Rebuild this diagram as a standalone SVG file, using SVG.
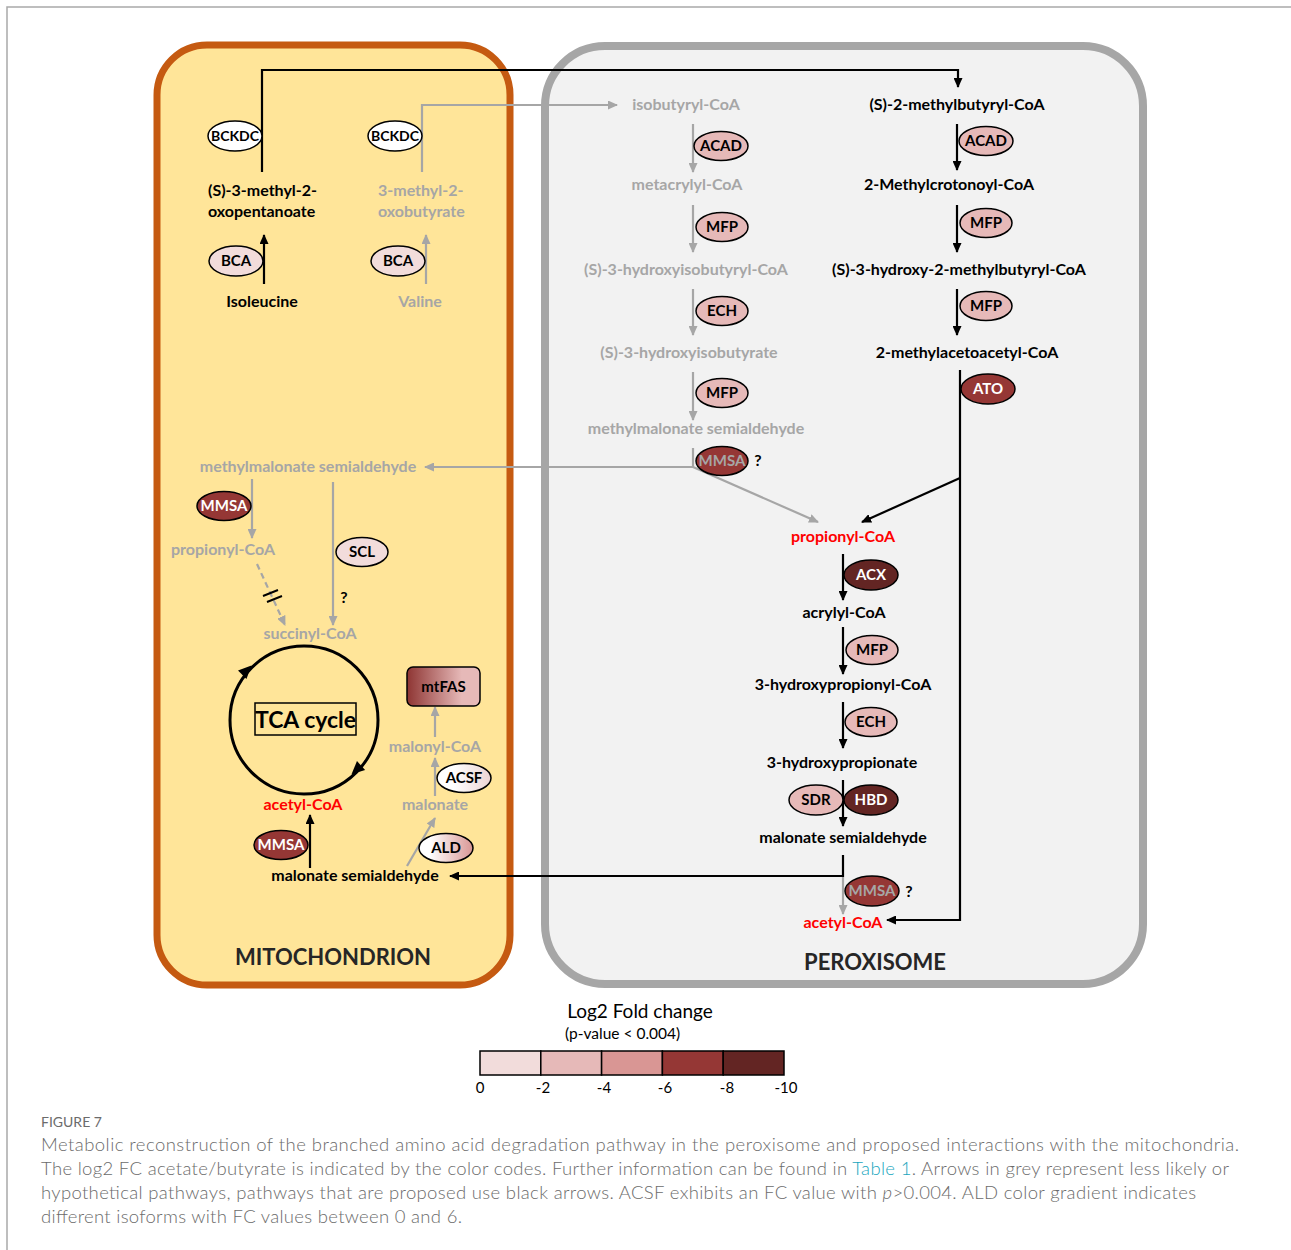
<svg xmlns="http://www.w3.org/2000/svg" width="1291" height="1250" viewBox="0 0 1291 1250">
<defs>
<style>
text{font-family:Lato,"Noto Sans","DejaVu Sans",sans-serif}
.t{font-weight:bold;font-size:16px;text-anchor:middle}
.ts{font-weight:bold;font-size:16px}
.en+text{font-size:15px}
.g{fill:#A6A6A6}
.k{fill:#000}
.r{fill:#FF0000}
.w{fill:#fff}
.en{stroke:#000;stroke-width:1.5}
.e0{fill:#F2DCDB}.e1{fill:#E6B9B8}.e3{fill:#953735}.e4{fill:#632523}.ew{fill:#fff}
.lk{fill:none;stroke:#000;stroke-width:2.2}
.lg{fill:none;stroke:#A6A6A6;stroke-width:2.2}
.cap{font-size:18.5px;fill:#6b6b6b;font-weight:300}
</style>
<marker id="ak" markerUnits="userSpaceOnUse" markerWidth="10" markerHeight="9" refX="9" refY="4.5" orient="auto"><path d="M0,0 L10,4.5 L0,9 z" fill="#000"/></marker>
<marker id="ag" markerUnits="userSpaceOnUse" markerWidth="10" markerHeight="9" refX="9" refY="4.5" orient="auto"><path d="M0,0 L10,4.5 L0,9 z" fill="#A6A6A6"/></marker>
<linearGradient id="gALD" x1="0" x2="1" y1="0" y2="0"><stop offset="0.2" stop-color="#fff"/><stop offset="1" stop-color="#D99694"/></linearGradient>
<linearGradient id="gACSF" x1="0" x2="1" y1="0" y2="0"><stop offset="0.3" stop-color="#fff"/><stop offset="1" stop-color="#EBD3D2"/></linearGradient>
<linearGradient id="gFAS" x1="0" x2="1" y1="0" y2="0"><stop offset="0" stop-color="#8E3533"/><stop offset="0.75" stop-color="#E6B9B8"/><stop offset="1" stop-color="#E6B9B8"/></linearGradient>
</defs>

<g id="frame">
<path d="M7,1250 V7 H1291" fill="none" stroke="#A9A9A9" stroke-width="1.5"/>
</g>

<g id="mitochondrion">
<rect x="157" y="45" width="353" height="940" rx="50" fill="#FFE599" stroke="#C55A11" stroke-width="7"/>
<text x="333" y="965" font-size="22" font-weight="bold" text-anchor="middle" fill="#262626">MITOCHONDRION</text>
</g>
<g id="peroxisome">
<rect x="545" y="46" width="598" height="938" rx="60" fill="#F2F2F2" stroke="#A6A6A6" stroke-width="8"/>
<text x="875" y="970" font-size="22" font-weight="bold" text-anchor="middle" fill="#262626">PEROXISOME</text>
</g>

<g id="connectors">
<path class="lk" d="M262,172 V70 H958 V87" marker-end="url(#ak)"/>
<path class="lg" d="M422,172 V105 H617" marker-end="url(#ag)"/>
<path class="lk" d="M264,284 V235" marker-end="url(#ak)"/>
<path class="lg" d="M426,284 V235" marker-end="url(#ag)"/>
<path class="lg" d="M693,124 V172" marker-end="url(#ag)"/>
<path class="lg" d="M693,205 V252" marker-end="url(#ag)"/>
<path class="lg" d="M693,289 V335" marker-end="url(#ag)"/>
<path class="lg" d="M693,372 V420" marker-end="url(#ag)"/>
<path class="lk" d="M957,124 V170" marker-end="url(#ak)"/>
<path class="lk" d="M957,205 V252" marker-end="url(#ak)"/>
<path class="lk" d="M957,289 V335" marker-end="url(#ak)"/>
<path class="lk" d="M843,554 V600" marker-end="url(#ak)"/>
<path class="lk" d="M843,627 V674" marker-end="url(#ak)"/>
<path class="lk" d="M843,702 V748" marker-end="url(#ak)"/>
<path class="lk" d="M843,780 V826" marker-end="url(#ak)"/>
<path class="lk" d="M960,370 V920 H887" marker-end="url(#ak)"/>
<path class="lk" d="M960,478 L862,522" marker-end="url(#ak)"/>
<path class="lg" d="M693,448 V467 H425" marker-end="url(#ag)"/>
<path class="lg" d="M693,467 L818,522" marker-end="url(#ag)"/>
<path class="lk" d="M843,855 V876 H450" marker-end="url(#ak)"/>
<path class="lg" d="M843,877 V914" marker-end="url(#ag)"/>
<path class="lg" d="M252,479 V538" marker-end="url(#ag)"/>
<path class="lg" d="M257,564 L285,625" stroke-dasharray="6,4" marker-end="url(#ag)"/>
<path d="M263,596 L278,590 M267,602 L282,596" stroke="#000" stroke-width="2"/>
<path class="lg" d="M333,482 V625" marker-end="url(#ag)"/>
<path class="lk" d="M310,868 V815" marker-end="url(#ak)"/>
<path class="lg" d="M407,866 L435,818" marker-end="url(#ag)"/>
<path class="lg" d="M435,796 V758" marker-end="url(#ag)"/>
<path class="lg" d="M435,737 V707" marker-end="url(#ag)"/>
</g>

<g id="tca-cycle">
<circle cx="304" cy="720" r="74" fill="none" stroke="#000" stroke-width="3"/>
<path d="M2,0 L-11,-6 L-11,6 z" fill="#000" transform="translate(250,667) rotate(-45)"/>
<path d="M2,0 L-11,-6 L-11,6 z" fill="#000" transform="translate(353,773) rotate(137)"/>
<rect x="255" y="703" width="101" height="32" fill="none" stroke="#000" stroke-width="1.5"/>
<text x="305.5" y="728" font-size="23" font-weight="bold" text-anchor="middle">TCA cycle</text>
</g>

<g id="n-isoleucine"><text class="t k" x="262" y="307">Isoleucine</text></g>
<g id="n-valine"><text class="t g" x="420" y="307">Valine</text></g>
<g id="n-oxopentanoate"><text class="ts k" x="208" y="196">(S)-3-methyl-2-</text><text class="ts k" x="208" y="217">oxopentanoate</text></g>
<g id="n-oxobutyrate"><text class="ts g" x="378" y="196">3-methyl-2-</text><text class="ts g" x="378" y="217">oxobutyrate</text></g>
<g id="e-bca1"><ellipse class="en e0" cx="236" cy="261" rx="27" ry="15"/><text class="t k" x="236" y="266">BCA</text></g>
<g id="e-bca2"><ellipse class="en e0" cx="398" cy="261" rx="27" ry="15"/><text class="t k" x="398" y="266">BCA</text></g>
<g id="e-bckdc1"><ellipse class="en ew" cx="235" cy="136" rx="27" ry="15"/><text class="t k" x="235" y="141" style="font-size:14px">BCKDC</text></g>
<g id="e-bckdc2"><ellipse class="en ew" cx="395" cy="136" rx="27" ry="15"/><text class="t k" x="395" y="141" style="font-size:14px">BCKDC</text></g>

<g id="n-mmsald-mito"><text class="t g" x="308" y="472">methylmalonate semialdehyde</text></g>
<g id="e-mmsa-m1"><ellipse class="en e3" cx="224" cy="506" rx="27" ry="14.5"/><text class="t w" x="224" y="511">MMSA</text></g>
<g id="n-propionyl-mito"><text class="t g" x="223" y="555">propionyl-CoA</text></g>
<g id="e-scl"><ellipse class="en e0" cx="362" cy="552" rx="26" ry="14.5"/><text class="t k" x="362" y="557">SCL</text></g>
<text class="t k" x="344" y="603">?</text>
<g id="n-succinyl"><text class="t g" x="310" y="639">succinyl-CoA</text></g>
<g id="n-acetyl-mito"><text class="t r" x="303" y="810">acetyl-CoA</text></g>
<g id="e-mmsa-m2"><ellipse class="en e3" cx="281" cy="845" rx="27" ry="14.5"/><text class="t w" x="281" y="850">MMSA</text></g>
<g id="n-malsald-mito"><text class="t k" x="355" y="881">malonate semialdehyde</text></g>
<g id="e-ald"><ellipse class="en" fill="url(#gALD)" cx="446" cy="848" rx="27" ry="14.5"/><text class="t k" x="446" y="853">ALD</text></g>
<g id="n-malonate"><text class="t g" x="435" y="810">malonate</text></g>
<g id="e-acsf"><ellipse class="en" fill="url(#gACSF)" cx="464" cy="778" rx="27" ry="14.5"/><text class="t k" x="464" y="783">ACSF</text></g>
<g id="n-malonyl"><text class="t g" x="435" y="752">malonyl-CoA</text></g>
<g id="e-mtfas"><rect x="407" y="667" width="73" height="39" rx="6" fill="url(#gFAS)" stroke="#000" stroke-width="1.5"/><text class="t k" x="443.5" y="692" style="font-size:15px">mtFAS</text></g>

<g id="n-isobutyryl"><text class="t g" x="686" y="110">isobutyryl-CoA</text></g>
<g id="e-acad1"><ellipse class="en e1" cx="721" cy="146" rx="27" ry="14.5"/><text class="t k" x="721" y="151">ACAD</text></g>
<g id="n-metacrylyl"><text class="t g" x="687" y="190">metacrylyl-CoA</text></g>
<g id="e-mfp1"><ellipse class="en e1" cx="722" cy="227" rx="26" ry="14.5"/><text class="t k" x="722" y="232">MFP</text></g>
<g id="n-hibcoa"><text class="t g" x="686" y="275">(S)-3-hydroxyisobutyryl-CoA</text></g>
<g id="e-ech1"><ellipse class="en e1" cx="722" cy="311" rx="26" ry="14.5"/><text class="t k" x="722" y="316">ECH</text></g>
<g id="n-hib"><text class="t g" x="689" y="358">(S)-3-hydroxyisobutyrate</text></g>
<g id="e-mfp2"><ellipse class="en e1" cx="722" cy="393" rx="26" ry="14.5"/><text class="t k" x="722" y="398">MFP</text></g>
<g id="n-mmsald-px"><text class="t g" x="696" y="434">methylmalonate semialdehyde</text></g>
<g id="e-mmsa-p1"><ellipse class="en e3" cx="722" cy="461" rx="26" ry="14.5"/><text class="t g" x="722" y="466">MMSA</text></g>
<text class="t k" x="758" y="466">?</text>

<g id="n-mbcoa"><text class="t k" x="957" y="110">(S)-2-methylbutyryl-CoA</text></g>
<g id="e-acad2"><ellipse class="en e1" cx="986" cy="141" rx="27" ry="14.5"/><text class="t k" x="986" y="146">ACAD</text></g>
<g id="n-mccoa"><text class="t k" x="949" y="190">2-Methylcrotonoyl-CoA</text></g>
<g id="e-mfp3"><ellipse class="en e1" cx="986" cy="223" rx="26" ry="14.5"/><text class="t k" x="986" y="228">MFP</text></g>
<g id="n-hmbcoa"><text class="t k" x="959" y="275">(S)-3-hydroxy-2-methylbutyryl-CoA</text></g>
<g id="e-mfp4"><ellipse class="en e1" cx="986" cy="306" rx="26" ry="14.5"/><text class="t k" x="986" y="311">MFP</text></g>
<g id="n-maacoa"><text class="t k" x="967" y="358">2-methylacetoacetyl-CoA</text></g>
<g id="e-ato"><ellipse class="en e3" cx="988" cy="389" rx="27" ry="15"/><text class="t w" x="988" y="394">ATO</text></g>

<g id="n-propionyl-px"><text class="t r" x="843" y="542">propionyl-CoA</text></g>
<g id="e-acx"><ellipse class="en e4" cx="871" cy="575" rx="27" ry="15"/><text class="t w" x="871" y="580">ACX</text></g>
<g id="n-acrylyl"><text class="t k" x="844" y="618">acrylyl-CoA</text></g>
<g id="e-mfp5"><ellipse class="en e1" cx="872" cy="650" rx="26" ry="14.5"/><text class="t k" x="872" y="655">MFP</text></g>
<g id="n-hpcoa"><text class="t k" x="843" y="690">3-hydroxypropionyl-CoA</text></g>
<g id="e-ech2"><ellipse class="en e1" cx="871" cy="722" rx="26" ry="14.5"/><text class="t k" x="871" y="727">ECH</text></g>
<g id="n-hp"><text class="t k" x="842" y="768">3-hydroxypropionate</text></g>
<g id="e-sdr"><ellipse class="en e1" cx="816" cy="800" rx="27" ry="15"/><text class="t k" x="816" y="805">SDR</text></g>
<g id="e-hbd"><ellipse class="en e4" cx="871" cy="800" rx="27" ry="15"/><text class="t w" x="871" y="805">HBD</text></g>
<g id="n-malsald-px"><text class="t k" x="843" y="843">malonate semialdehyde</text></g>
<g id="e-mmsa-p2"><ellipse class="en e3" cx="872" cy="891" rx="27" ry="15"/><text class="t g" x="872" y="896">MMSA</text></g>
<text class="t k" x="909" y="897">?</text>
<g id="n-acetyl-px"><text class="t r" x="843" y="928">acetyl-CoA</text></g>

<g id="legend">
<text x="640" y="1018" font-size="19" text-anchor="middle" fill="#000">Log2 Fold change</text>
<text x="565" y="1039" font-size="15.5" fill="#000">(p-value &lt; 0.004)</text>
<g stroke="#000" stroke-width="1.5">
<rect x="480" y="1051" width="60.8" height="24" fill="#F2DCDB"/>
<rect x="540.8" y="1051" width="60.8" height="24" fill="#E6B9B8"/>
<rect x="601.6" y="1051" width="60.8" height="24" fill="#D99694"/>
<rect x="662.4" y="1051" width="60.8" height="24" fill="#953735"/>
<rect x="723.2" y="1051" width="60.8" height="24" fill="#632523"/>
</g>
<g font-size="15" text-anchor="middle" fill="#000">
<text x="480" y="1093">0</text><text x="543" y="1093">-2</text><text x="604" y="1093">-4</text><text x="665" y="1093">-6</text><text x="727" y="1093">-8</text><text x="786" y="1093">-10</text>
</g>
</g>

<g id="caption">
<text x="41" y="1127" font-size="14" fill="#6b6b6b">FIGURE 7</text>
<text class="cap" x="41" y="1151" textLength="1198" lengthAdjust="spacing">Metabolic reconstruction of the branched amino acid degradation pathway in the peroxisome and proposed interactions with the mitochondria.</text>
<text class="cap" x="41" y="1175" textLength="1188" lengthAdjust="spacing">The log2 FC acetate/butyrate is indicated by the color codes. Further information can be found in <tspan fill="#1AA6BE">Table 1</tspan>. Arrows in grey represent less likely or</text>
<text class="cap" x="41" y="1199" textLength="1155" lengthAdjust="spacing">hypothetical pathways, pathways that are proposed use black arrows. ACSF exhibits an FC value with <tspan font-style="italic">p</tspan>&gt;0.004. ALD color gradient indicates</text>
<text class="cap" x="41" y="1223" textLength="421" lengthAdjust="spacing">different isoforms with FC values between 0 and 6.</text>
</g>
</svg>
